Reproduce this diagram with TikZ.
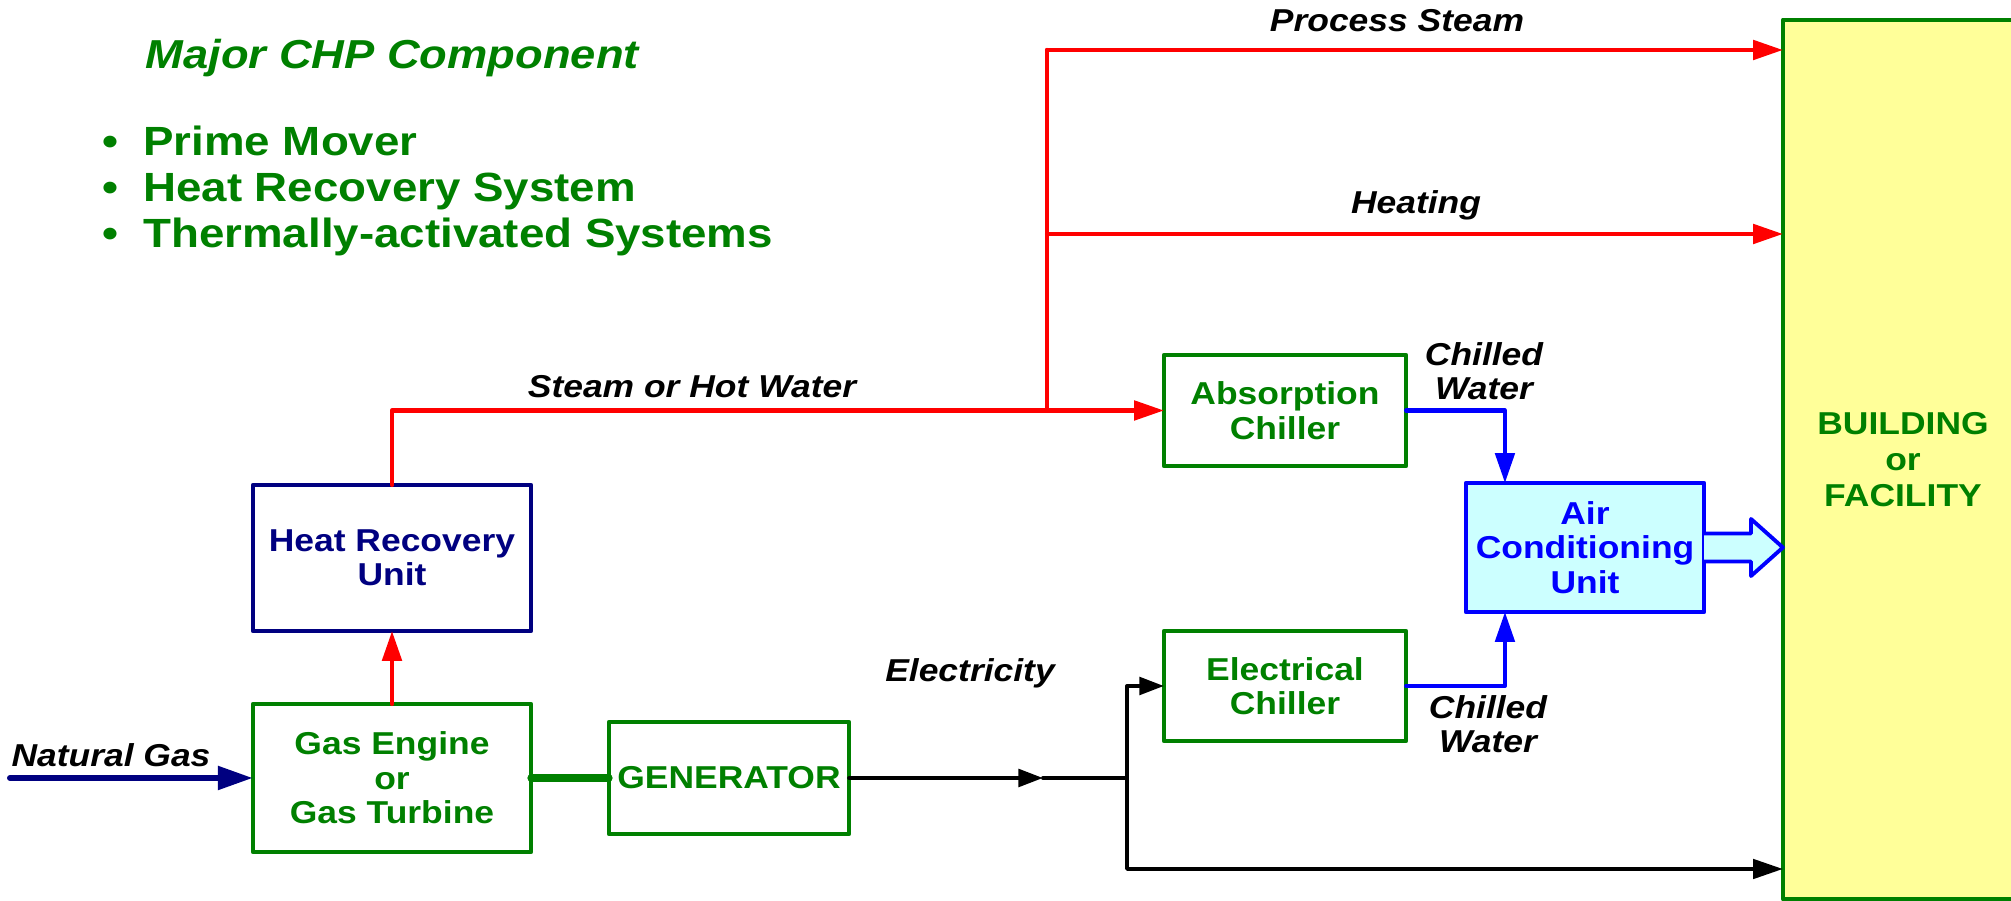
\documentclass[tikz,border=0pt]{standalone}
\usepackage{fontspec}
\setmainfont{Liberation Sans}[FakeStretch=1.12]
\usetikzlibrary{arrows.meta}
\definecolor{chpgreen}{HTML}{008000}
\definecolor{chpnavy}{HTML}{000080}
\definecolor{bldgfill}{HTML}{FFFF99}
\definecolor{acfill}{HTML}{CCFFFF}

\begin{document}
\begin{tikzpicture}[
    x=0.01cm,y=-0.01cm,
    line cap=round,
    line join=round,
    tip/.style={-{Triangle[length=8.5pt,width=5.5pt]}},
    unit/.style={draw=chpgreen,line width=1.25pt,inner sep=0pt,outer sep=0pt,
      text=chpgreen,align=center,font=\fontsize{9}{9.8}\selectfont\bfseries},
    lbl/.style={inner sep=0pt,align=center,font=\fontsize{9}{9.6}\selectfont\bfseries\itshape},
    steam/.style={red,line width=1.2pt},
    power/.style={black,line width=1.1pt},
    chill/.style={blue,line width=1.15pt},
]
\useasboundingbox (0,0) rectangle (2011,901);
% legend
\node[anchor=west,inner sep=0pt,text=chpgreen,font=\fontsize{11.5}{13}\selectfont\bfseries\itshape]
  (title) at (145,58) {Major CHP Component};
\node[anchor=west,inner sep=0pt,align=left,text=chpgreen,font=\fontsize{11.6}{13.1}\selectfont\bfseries]
  (list) at (102,191) {•\hspace{7pt}Prime Mover\\ •\hspace{7pt}Heat Recovery System\\ •\hspace{7pt}Thermally-activated Systems};
% building
\node[draw=chpgreen,fill=bldgfill,line width=1.25pt,minimum width=2.4cm,minimum height=8.79cm,
  inner sep=0pt,outer sep=0pt,text=chpgreen,align=center,font=\fontsize{9}{10.3}\selectfont\bfseries]
  (bldg) at (1903,459.5) {BUILDING\\or\\FACILITY};
% units
\node[unit,draw=chpnavy,text=chpnavy,minimum width=2.78cm,minimum height=1.46cm] (hru) at (392,558) {Heat Recovery\\Unit};
\node[unit,minimum width=2.78cm,minimum height=1.48cm] (eng) at (392,778) {Gas Engine\\or\\Gas Turbine};
\node[unit,minimum width=2.40cm,minimum height=1.12cm] (gen) at (729,778) {GENERATOR};
\node[unit,minimum width=2.42cm,minimum height=1.11cm] (abs) at (1285,410.5) {Absorption\\Chiller};
\node[unit,minimum width=2.42cm,minimum height=1.10cm] (elc) at (1285,686) {Electrical\\Chiller};
\node[unit,draw=blue,fill=acfill,text=blue,minimum width=2.38cm,minimum height=1.29cm] (acu) at (1585,547.5) {Air\\Conditioning\\Unit};
% joints
\coordinate (ng) at (10,778);
\coordinate (sj) at (1047,410.5);
\coordinate (ps) at (1047,50);
\coordinate (ht) at (1047,234);
\coordinate (em) at (1043,778);
\coordinate (ej) at (1127,778);
\coordinate (eb) at (1127,869);
% fuel and shaft
\draw[chpnavy,line width=1.7pt,-{Triangle[length=10pt,width=6.5pt]}] (ng) -- (eng.west);
\draw[chpgreen,line width=2.1pt] (eng.east) -- (gen.west);
% heat
\draw[steam,tip] (eng.north) -- (hru.south);
\draw[steam,tip] (hru.north) |- (abs.west);
\draw[steam] (sj) -- (ps);
\draw[steam,tip] (ps) -- (ps -| bldg.west);
\draw[steam,tip] (ht) -- (ht -| bldg.west);
% electricity
\draw[power,-{Triangle[length=7pt,width=5pt]}] (gen.east) -- (em);
\draw[power] (em) -- (ej);
\draw[power,-{Triangle[length=7pt,width=5pt]}] (ej) |- (elc.west);
\draw[power,tip] (ej) |- (bldg.west |- eb);
% chilled water
\draw[chill,tip] (abs.east) -| ([xshift=-0.8cm]acu.north);
\draw[chill,tip] (elc.east) -| ([xshift=-0.8cm]acu.south);
% conditioned air
\draw[blue,fill=acfill,line width=1.1pt] (acu.east) ++(0,-14) -- (1751,533.5) -- (1751,519)
  -- (bldg.west |- acu.east) -- (1751,576) -- (1751,561.5) -- ([yshift=-0.14cm]acu.east);
% labels
\node[lbl] (lgas) at (111,755) {Natural Gas};
\node[lbl] (lelec) at (970,673) {Electricity};
\node[lbl] (lhot) at (692,387) {Steam or Hot Water};
\node[lbl] (lproc) at (1397,21) {Process Steam};
\node[lbl] (lheat) at (1416,205) {Heating};
\node[lbl] (lcw1) at (1484,371) {Chilled\\Water};
\node[lbl] (lcw2) at (1488,724) {Chilled\\Water};
\end{tikzpicture}
\end{document}
